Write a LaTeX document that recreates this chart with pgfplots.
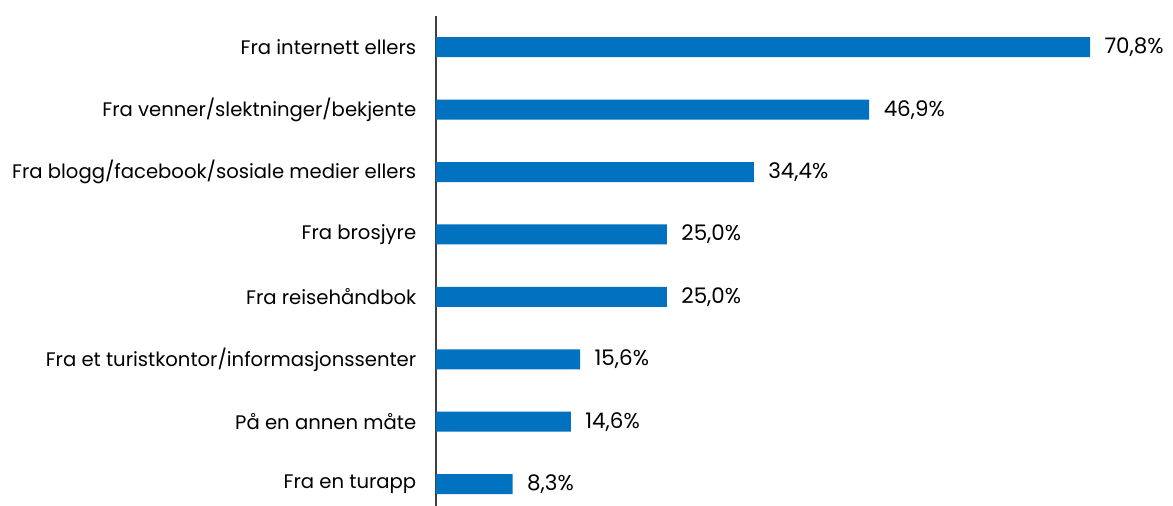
\documentclass[border=0pt]{standalone}
\usepackage{pgfplots}
\pgfplotsset{compat=1.18}
\usepackage{fontspec}
\setmainfont{Poppins}
\definecolor{barblue}{RGB}{0,114,192}
\definecolor{axisgray}{RGB}{64,64,64}

\begin{document}
\begin{tikzpicture}
\begin{axis}[
	xbar,
	scale only axis,
	width=739bp,
	height=490bp,
	at={(0,0)},
	anchor=south west,
	xmin=0, xmax=80,
	ymin=-0.35, ymax=7.5,
	bar width=20bp,
	axis x line=none,
	axis y line*=left,
	y axis line style={axisgray, line width=1.2pt},
	ytick={0,...,7},
	yticklabels={Fra en turapp, På en annen måte, Fra et turistkontor/informasjonssenter, Fra reisehåndbok, Fra brosjyre\ , Fra blogg/facebook/sosiale medier ellers, Fra venner/slektninger/bekjente, Fra internett ellers\ },
	ytick style={draw=none},
	yticklabel style={font=\fontsize{19.7}{22}\selectfont, xshift=-12bp},
	nodes near coords={\pgfmathprintnumber[fixed, fixed zerofill, precision=1, use comma, assume math mode=true]{\pgfplotspointmeta}\%},
	nodes near coords style={font=\fontsize{21.5}{24}\selectfont, black, xshift=11bp},
	]
\addplot[fill=barblue, draw=none] coordinates {
(8.3,0)
(14.6,1)
(15.6,2)
(25.0,3)
(25.0,4)
(34.4,5)
(46.9,6)
(70.8,7)
};
\end{axis}
\pgfresetboundingbox
\path (-436bp,0) rectangle (737bp,506bp);
\end{tikzpicture}
\end{document}
